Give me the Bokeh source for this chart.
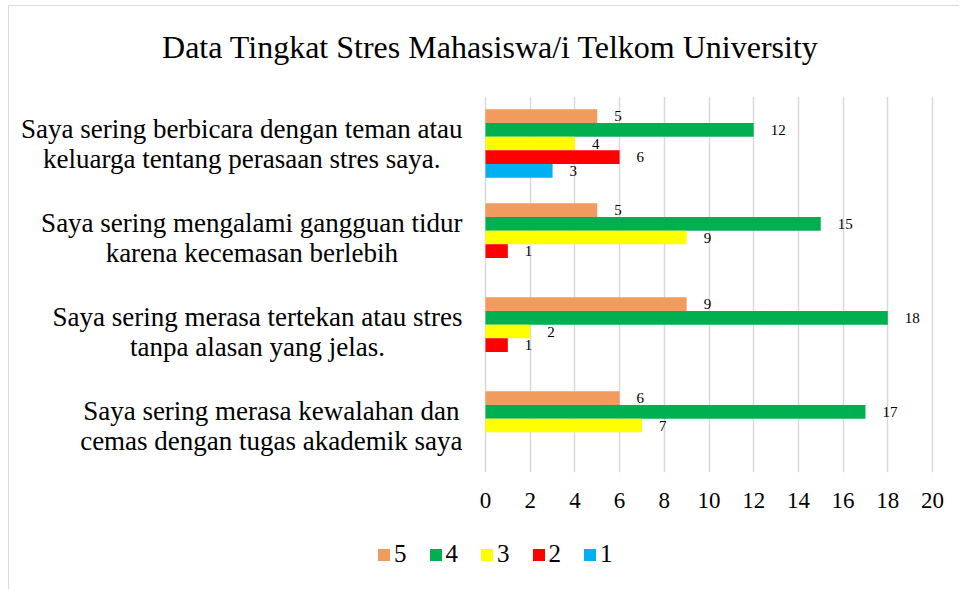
from bokeh.plotting import figure
from bokeh.layouts import column
from bokeh.models import (ColumnDataSource, Label, LabelSet, Legend, LegendItem,
                          FactorRange, Range1d, FixedTicker)
from bokeh.transform import dodge
from bokeh.embed import file_html
from bokeh.resources import INLINE

# ---------------- data ----------------
categories = [
    "Saya sering berbicara dengan teman atau\nkeluarga tentang perasaan stres saya.",
    "Saya sering mengalami gangguan tidur\nkarena kecemasan berlebih",
    "Saya sering merasa tertekan atau stres\ntanpa alasan yang jelas.",
    "Saya sering merasa kewalahan dan\ncemas dengan tugas akademik saya",
]
series_names = ["5", "4", "3", "2", "1"]
values_5 = [5, 5, 9, 6]
values_4 = [12, 15, 18, 17]
values_3 = [4, 9, 2, 7]
values_2 = [6, 1, 1, 0]
values_1 = [3, 0, 0, 0]
x_ticks = [0, 2, 4, 6, 8, 10, 12, 14, 16, 18, 20]
title_text = "Data Tingkat Stres Mahasiswa/i Telkom University"

series_values = [values_5, values_4, values_3, values_2, values_1]
colors = ["#F19B5F", "#00B050", "#FFFF00", "#FF0000", "#00B0F0"]
offsets = [0.292, 0.146, 0.0, -0.146, -0.292]
bar_h = 0.146
SERIF = "Liberation Serif"

# layout (pixels)
W = 950
H_TITLE, H_MAIN, H_LEG = 90, 420, 73
LEFT_PAD_PX = 476      # space left of value 0 (category labels live here)
PLOT_W_PX = 447        # width of 0..20
RIGHT_PAD_PX = W - LEFT_PAD_PX - PLOT_W_PX
ppu = PLOT_W_PX / 20.0


def strip(height):
    f = figure(width=W, height=height, x_range=Range1d(0, 1), y_range=Range1d(0, 1),
               output_backend="svg", toolbar_location=None,
               min_border_left=0, min_border_right=0,
               min_border_top=0, min_border_bottom=0)
    f.outline_line_color = None
    f.axis.visible = False
    f.grid.visible = False
    f.border_fill_color = "white"
    f.background_fill_color = "white"
    return f


# ---- title strip ----
tf = strip(H_TITLE)
tf.add_layout(Label(x=481, y=50, x_units="screen", y_units="screen", text=title_text,
                    text_align="center", text_baseline="middle",
                    text_font=SERIF, text_font_size="32px", text_color="#000000"))

# ---- main chart ----
p = figure(width=W, height=H_MAIN,
           y_range=FactorRange(factors=list(reversed(categories))),
           x_range=Range1d(-LEFT_PAD_PX / ppu, 20 + RIGHT_PAD_PX / ppu),
           output_backend="svg", toolbar_location=None,
           min_border_left=0, min_border_right=0,
           min_border_top=0, min_border_bottom=44)
p.title.visible = False
p.outline_line_color = None
p.background_fill_color = "white"
p.border_fill_color = "white"

p.ygrid.visible = False
p.xgrid.ticker = FixedTicker(ticks=x_ticks)
p.xgrid.grid_line_color = "#D9D9D9"
p.xgrid.grid_line_width = 1.5

p.yaxis.visible = False
xa = p.xaxis[0]
xa.ticker = FixedTicker(ticks=x_ticks)
xa.axis_line_color = None
xa.major_tick_line_color = None
xa.minor_tick_line_color = None
xa.major_label_text_font = SERIF
xa.major_label_text_font_size = "23px"
xa.major_label_text_color = "#000000"
xa.major_label_standoff = 14

# ---- legend strip ----
lf = figure(width=W, height=H_LEG,
            y_range=FactorRange(factors=list(reversed(categories))),
            x_range=Range1d(-2, -1),
            output_backend="svg", toolbar_location=None,
            min_border_left=0, min_border_right=0,
            min_border_top=0, min_border_bottom=0)
lf.outline_line_color = None
lf.axis.visible = False
lf.grid.visible = False
lf.border_fill_color = "white"

legend_items = []
for name, vals, col, off in zip(series_names, series_values, colors, offsets):
    src = ColumnDataSource(dict(cat=categories, v=vals))
    p.hbar(y=dodge("cat", off, range=p.y_range), left=0, right="v", height=bar_h,
           fill_color=col, line_color=None, source=src)
    rl = lf.hbar(y=dodge("cat", off, range=lf.y_range), left=0, right="v", height=bar_h,
                 fill_color=col, line_color=None, source=src)
    legend_items.append(LegendItem(label=name, renderers=[rl]))
    lab_cats = [c for c, v in zip(categories, vals) if v > 0]
    lab_vals = [v for v in vals if v > 0]
    lsrc = ColumnDataSource(dict(cat=lab_cats, v=lab_vals, t=[str(v) for v in lab_vals]))
    p.add_layout(LabelSet(x="v", y=dodge("cat", off, range=p.y_range), text="t",
                          source=lsrc, x_offset=17, text_align="left",
                          text_baseline="middle", text_font=SERIF,
                          text_font_size="15px", text_color="#000000"))

# category labels (right-anchored blocks, lines centred); numeric y = factor centre
n = len(categories)
for i, c in enumerate(categories):
    p.add_layout(Label(x=0, y=n - i - 0.5, x_offset=-23,
                       text=c, anchor="center_right", text_align="center",
                       text_baseline="middle", text_line_height=1.0,
                       text_font=SERIF, text_font_size="27px", text_color="#000000"))

legend = Legend(items=legend_items, orientation="horizontal", location=(367, 21),
                glyph_width=15, glyph_height=15, label_standoff=3, spacing=21,
                label_width=12, padding=0, margin=0, border_line_color=None,
                background_fill_alpha=0, label_text_font=SERIF,
                label_text_font_size="25px", label_text_color="#000000")
lf.add_layout(legend, "center")

layout = column(tf, p, lf, spacing=0,
                styles={"margin-left": "8px", "margin-top": "5px",
                        "border-left": "1px solid #D9D9D9",
                        "border-top": "1px solid #D9D9D9"})

open("out.html", "w").write(file_html(layout, INLINE))
